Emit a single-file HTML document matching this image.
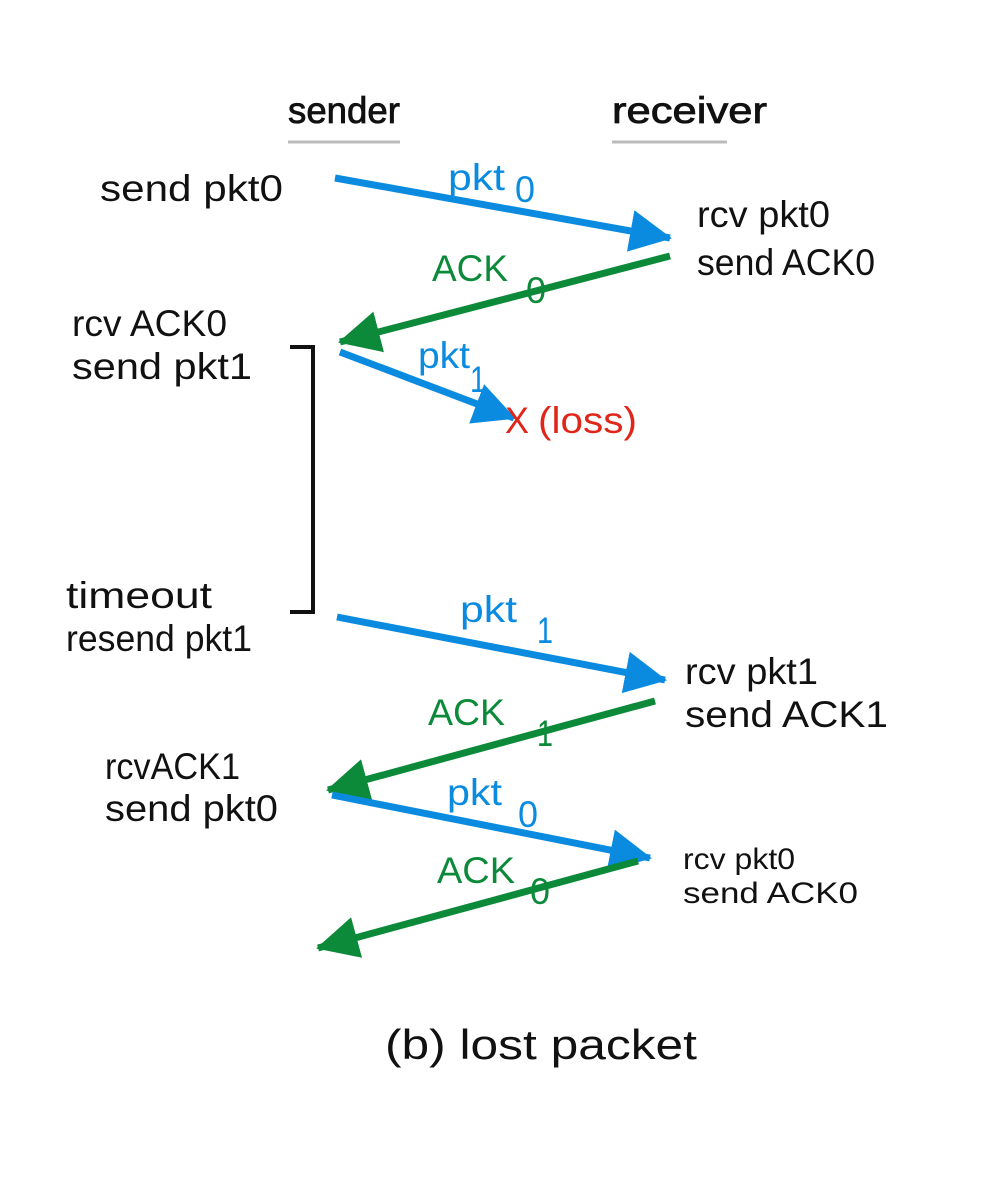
<!DOCTYPE html>
<html><head><meta charset="utf-8"><style>
html,body{margin:0;padding:0;background:#fff;}
svg{display:block;}
text{font-family:"Liberation Sans",sans-serif;}
</style></head><body>
<svg width="1000" height="1195" viewBox="0 0 1000 1195" xmlns="http://www.w3.org/2000/svg">
<defs>
<marker id="hb" markerUnits="userSpaceOnUse" markerWidth="46" markerHeight="46" refX="40" refY="21" orient="auto"><path d="M0,0 L42,21 L0,42 Z" fill="#0a8be0"/></marker>
<marker id="hg" markerUnits="userSpaceOnUse" markerWidth="46" markerHeight="46" refX="40" refY="21" orient="auto"><path d="M0,0 L42,21 L0,42 Z" fill="#0c8a3a"/></marker>
</defs>
<g fill="#111" font-size="37">
<text x="288" y="123" textLength="112" lengthAdjust="spacingAndGlyphs" stroke="#111" stroke-width="0.8">sender</text>
<text x="612" y="123" textLength="155" lengthAdjust="spacingAndGlyphs" stroke="#111" stroke-width="0.8">receiver</text>
<text x="100" y="201" textLength="183" lengthAdjust="spacingAndGlyphs">send pkt0</text>
<text x="697" y="227" textLength="133" lengthAdjust="spacingAndGlyphs">rcv pkt0</text>
<text x="697" y="275" textLength="178" lengthAdjust="spacingAndGlyphs">send ACK0</text>
<text x="72" y="336" textLength="155" lengthAdjust="spacingAndGlyphs">rcv ACK0</text>
<text x="72" y="379" textLength="180" lengthAdjust="spacingAndGlyphs">send pkt1</text>
<text x="66" y="608" textLength="146" lengthAdjust="spacingAndGlyphs">timeout</text>
<text x="66" y="651" textLength="186" lengthAdjust="spacingAndGlyphs">resend pkt1</text>
<text x="685" y="684" textLength="133" lengthAdjust="spacingAndGlyphs">rcv pkt1</text>
<text x="685" y="727" textLength="203" lengthAdjust="spacingAndGlyphs">send ACK1</text>
<text x="105" y="779" textLength="135" lengthAdjust="spacingAndGlyphs">rcvACK1</text>
<text x="105" y="821" textLength="173" lengthAdjust="spacingAndGlyphs">send pkt0</text>
<text x="683" y="869" font-size="30" textLength="112" lengthAdjust="spacingAndGlyphs">rcv pkt0</text>
<text x="683" y="903" font-size="30" textLength="175" lengthAdjust="spacingAndGlyphs">send ACK0</text>
<text x="385" y="1059" font-size="42" textLength="312" lengthAdjust="spacingAndGlyphs">(b) lost packet</text>
</g>
<line x1="288" y1="142" x2="400" y2="142" stroke="#bbb" stroke-width="3"/>
<line x1="612" y1="142" x2="727" y2="142" stroke="#bbb" stroke-width="3"/>
<path d="M290,347 L313,347 L313,612 L290,612" fill="none" stroke="#111" stroke-width="4"/>
<g stroke-width="7" fill="none">
<line x1="335" y1="178" x2="670" y2="238" stroke="#0a8be0" marker-end="url(#hb)"/>
<line x1="670" y1="256" x2="340" y2="342" stroke="#0c8a3a" marker-end="url(#hg)"/>
<line x1="340" y1="352" x2="514" y2="418" stroke="#0a8be0" marker-end="url(#hb)"/>
<line x1="337" y1="617" x2="665" y2="680" stroke="#0a8be0" marker-end="url(#hb)"/>
<line x1="655" y1="701" x2="328" y2="790" stroke="#0c8a3a" marker-end="url(#hg)"/>
<line x1="332" y1="795" x2="650" y2="858" stroke="#0a8be0" marker-end="url(#hb)"/>
<line x1="638" y1="861" x2="318" y2="948" stroke="#0c8a3a" marker-end="url(#hg)"/>
</g>
<g font-size="37">
<g fill="#0a8be0">
<text x="448" y="190" textLength="57" lengthAdjust="spacingAndGlyphs">pkt</text>
<text x="515" y="202" textLength="20" lengthAdjust="spacingAndGlyphs">0</text>
<text x="418" y="368" textLength="52" lengthAdjust="spacingAndGlyphs">pkt</text>
<text x="470" y="392" textLength="16" lengthAdjust="spacingAndGlyphs">1</text>
<text x="460" y="622" textLength="57" lengthAdjust="spacingAndGlyphs">pkt</text>
<text x="537" y="643" textLength="16" lengthAdjust="spacingAndGlyphs">1</text>
<text x="447" y="805" textLength="55" lengthAdjust="spacingAndGlyphs">pkt</text>
<text x="518" y="827" textLength="20" lengthAdjust="spacingAndGlyphs">0</text>
</g>
<g fill="#0c8a3a">
<text x="432" y="281" textLength="76" lengthAdjust="spacingAndGlyphs">ACK</text>
<text x="526" y="303" textLength="20" lengthAdjust="spacingAndGlyphs">0</text>
<text x="428" y="725" textLength="77" lengthAdjust="spacingAndGlyphs">ACK</text>
<text x="537" y="746" textLength="16" lengthAdjust="spacingAndGlyphs">1</text>
<text x="437" y="883" textLength="78" lengthAdjust="spacingAndGlyphs">ACK</text>
<text x="530" y="904" textLength="20" lengthAdjust="spacingAndGlyphs">0</text>
</g>
<g fill="#e0261b">
<text x="505" y="433" textLength="24" lengthAdjust="spacingAndGlyphs">X</text>
<text x="538" y="433" textLength="99" lengthAdjust="spacingAndGlyphs">(loss)</text>
</g>
</g>
</svg>
</body></html>
